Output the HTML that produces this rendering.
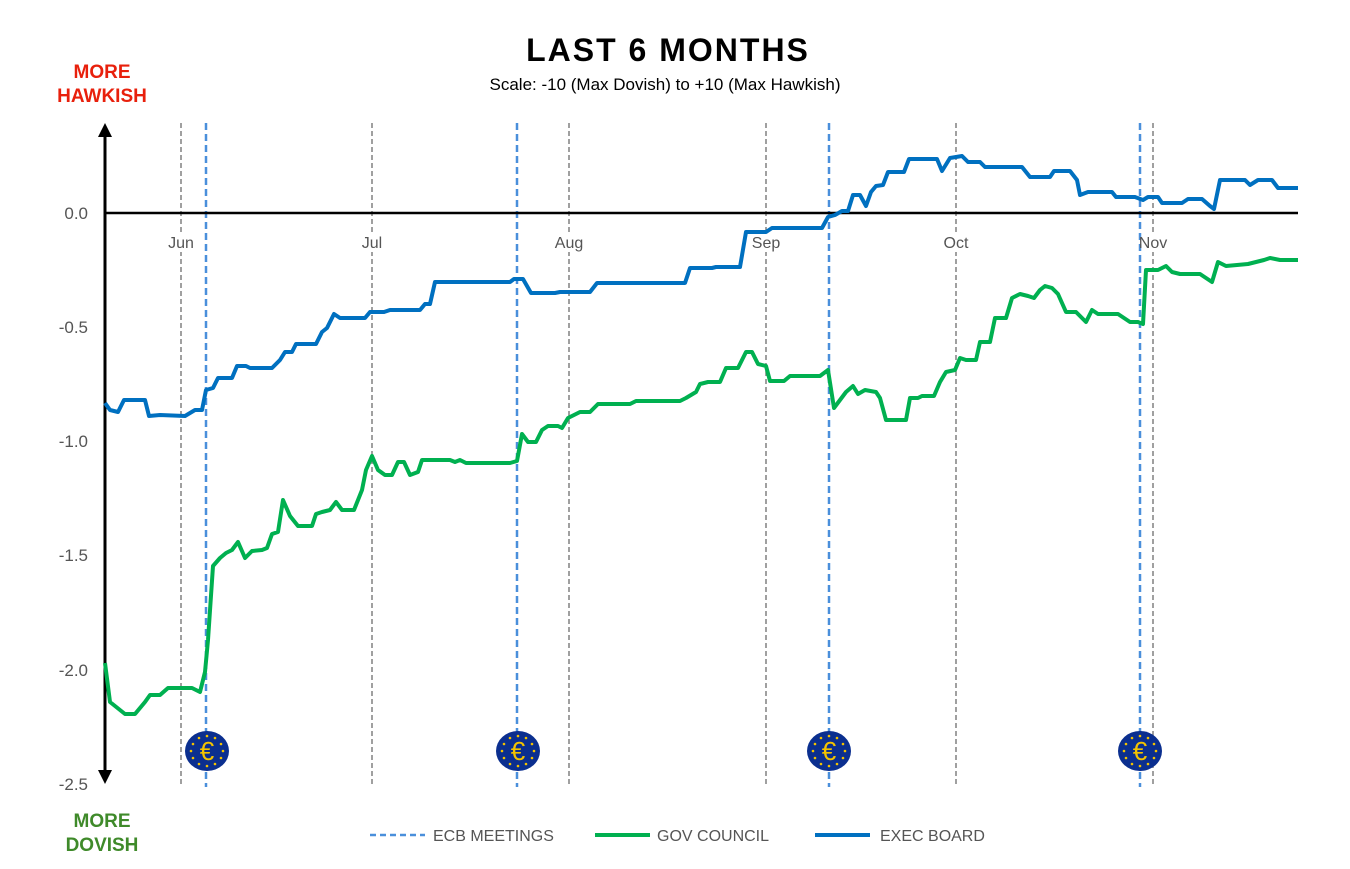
<!DOCTYPE html><html><head><style>body{margin:0;background:#fff}svg{display:block}text{font-family:"Liberation Sans",sans-serif}</style></head><body>
<svg width="1350" height="869" xmlns="http://www.w3.org/2000/svg">
<defs><g id="eu"><ellipse cx="0" cy="0" rx="22" ry="20" fill="#0b2f8f"/>
<g fill="#f3c300"><circle cx="0" cy="-15" r="1.3"/><circle cx="0" cy="15" r="1.3"/><circle cx="-16" cy="0" r="1.3"/><circle cx="16" cy="0" r="1.3"/><circle cx="-8" cy="-13" r="1.3"/><circle cx="8" cy="-13" r="1.3"/><circle cx="-8" cy="13" r="1.3"/><circle cx="8" cy="13" r="1.3"/><circle cx="-14" cy="-7" r="1.3"/><circle cx="14" cy="-7" r="1.3"/><circle cx="-14" cy="7" r="1.3"/><circle cx="14" cy="7" r="1.3"/></g>
<text x="0" y="9" text-anchor="middle" font-size="26" fill="#f3c300">€</text></g></defs>
<text x="668" y="61" text-anchor="middle" font-size="32" font-weight="bold" letter-spacing="2">LAST 6 MONTHS</text>
<text x="665" y="90" text-anchor="middle" font-size="17">Scale: -10 (Max Dovish)  to +10 (Max Hawkish)</text>
<text x="102" y="78" text-anchor="middle" font-size="19" font-weight="bold" fill="#e8200c">MORE</text>
<text x="102" y="102" text-anchor="middle" font-size="19" font-weight="bold" fill="#e8200c">HAWKISH</text>
<text x="102" y="827" text-anchor="middle" font-size="19" font-weight="bold" fill="#3f8a2a">MORE</text>
<text x="102" y="851" text-anchor="middle" font-size="19" font-weight="bold" fill="#3f8a2a">DOVISH</text>
<g font-size="17" fill="#555" text-anchor="end"><text x="88" y="219">0.0</text><text x="88" y="333">-0.5</text><text x="88" y="447">-1.0</text><text x="88" y="561">-1.5</text><text x="88" y="676">-2.0</text><text x="88" y="790">-2.5</text></g>
<g stroke="#808080" stroke-width="1.5" stroke-dasharray="5,3"><line x1="181" y1="123" x2="181" y2="787"/><line x1="372" y1="123" x2="372" y2="787"/><line x1="569" y1="123" x2="569" y2="787"/><line x1="766" y1="123" x2="766" y2="787"/><line x1="956" y1="123" x2="956" y2="787"/><line x1="1153" y1="123" x2="1153" y2="787"/></g>
<g fill="#fff"><rect x="166" y="232" width="30" height="20"/><rect x="360" y="232" width="24" height="20"/><rect x="553" y="232" width="32" height="20"/><rect x="750" y="232" width="32" height="20"/><rect x="941" y="232" width="30" height="20"/><rect x="1137" y="232" width="32" height="20"/></g>
<g stroke="#4a8fdb" stroke-width="2.5" stroke-dasharray="7,4"><line x1="206" y1="123" x2="206" y2="787"/><line x1="517" y1="123" x2="517" y2="787"/><line x1="829" y1="123" x2="829" y2="787"/><line x1="1140" y1="123" x2="1140" y2="787"/></g>
<g font-size="16" fill="#555" text-anchor="middle"><text x="181" y="248">Jun</text><text x="372" y="248">Jul</text><text x="569" y="248">Aug</text><text x="766" y="248">Sep</text><text x="956" y="248">Oct</text><text x="1153" y="248">Nov</text></g>
<line x1="105" y1="213" x2="1298" y2="213" stroke="#000" stroke-width="2.5"/>
<line x1="105" y1="135" x2="105" y2="772" stroke="#000" stroke-width="3"/>
<polygon points="98,137 112,137 105,123" fill="#000"/><polygon points="98,770 112,770 105,784" fill="#000"/>
<polyline fill="none" stroke="#0070c0" stroke-width="4" stroke-linejoin="round" points="105,403 110,410 118,412 124,400 145,400 149,416 160,415 185,416 195,410 202,410 206,390 213,388 218,378 232,378 237,366 246,366 250,368 272,368 280,360 285,352 292,352 296,344 316,344 322,332 327,328 334,314 340,318 365,318 370,312 384,312 390,310 420,310 425,304 430,304 435,282 510,282 514,279 523,279 531,293 555,293 560,292 590,292 597,283 685,283 690,268 712,268 716,267 740,267 746,232 766,232 772,228 822,228 828,217 835,215 842,211 848,211 853,195 860,195 866,206 871,192 876,186 883,185 888,172 904,172 909,159 937,159 942,171 950,158 962,156 968,162 980,162 985,167 1022,167 1030,177 1050,177 1054,171 1070,171 1077,180 1080,195 1088,192 1112,192 1116,197 1135,197 1143,200 1148,197 1158,197 1162,203 1182,203 1188,199 1202,199 1210,206 1214,209 1220,180 1245,180 1250,185 1258,180 1272,180 1278,188 1298,188"/>
<polyline fill="none" stroke="#00b050" stroke-width="4" stroke-linejoin="round" points="105,663 110,702 120,710 125,714 135,714 145,702 150,695 160,695 168,688 192,688 200,692 205,672 208,640 213,566 220,558 226,553 232,550 238,542 245,558 252,551 262,550 267,548 272,534 278,532 283,500 290,516 298,526 312,526 316,514 322,512 330,510 336,502 342,510 354,510 362,490 366,470 372,456 378,470 385,475 392,475 398,462 404,462 410,475 418,472 422,460 450,460 455,462 460,460 466,463 510,463 517,461 522,434 528,442 536,442 542,430 548,426 558,426 562,428 568,418 580,412 590,412 598,404 630,404 636,401 680,401 686,398 696,392 700,384 708,382 720,382 726,368 738,368 746,352 752,352 758,364 766,366 770,381 784,381 790,376 820,376 828,370 834,408 840,400 846,392 853,386 858,394 865,390 876,392 880,398 886,420 906,420 910,398 918,398 922,396 934,396 940,382 946,372 955,370 960,358 966,360 976,360 980,342 990,342 995,318 1006,318 1012,298 1020,294 1028,296 1034,298 1040,290 1045,286 1052,288 1058,294 1066,312 1076,312 1080,316 1086,322 1092,310 1098,314 1118,314 1124,318 1130,322 1138,322 1143,324 1146,270 1158,270 1166,266 1172,272 1180,274 1200,274 1212,282 1218,262 1226,266 1248,264 1264,260 1270,258 1280,260 1298,260"/>
<use href="#eu" x="207" y="751"/><use href="#eu" x="518" y="751"/><use href="#eu" x="829" y="751"/><use href="#eu" x="1140" y="751"/>
<line x1="370" y1="835" x2="425" y2="835" stroke="#4a8fdb" stroke-width="2.5" stroke-dasharray="6,4"/>
<text x="433" y="841" font-size="16" fill="#555">ECB MEETINGS</text>
<line x1="595" y1="835" x2="650" y2="835" stroke="#00b050" stroke-width="4"/>
<text x="657" y="841" font-size="16" fill="#555">GOV COUNCIL</text>
<line x1="815" y1="835" x2="870" y2="835" stroke="#0070c0" stroke-width="4"/>
<text x="880" y="841" font-size="16" fill="#555">EXEC BOARD</text>
</svg></body></html>
